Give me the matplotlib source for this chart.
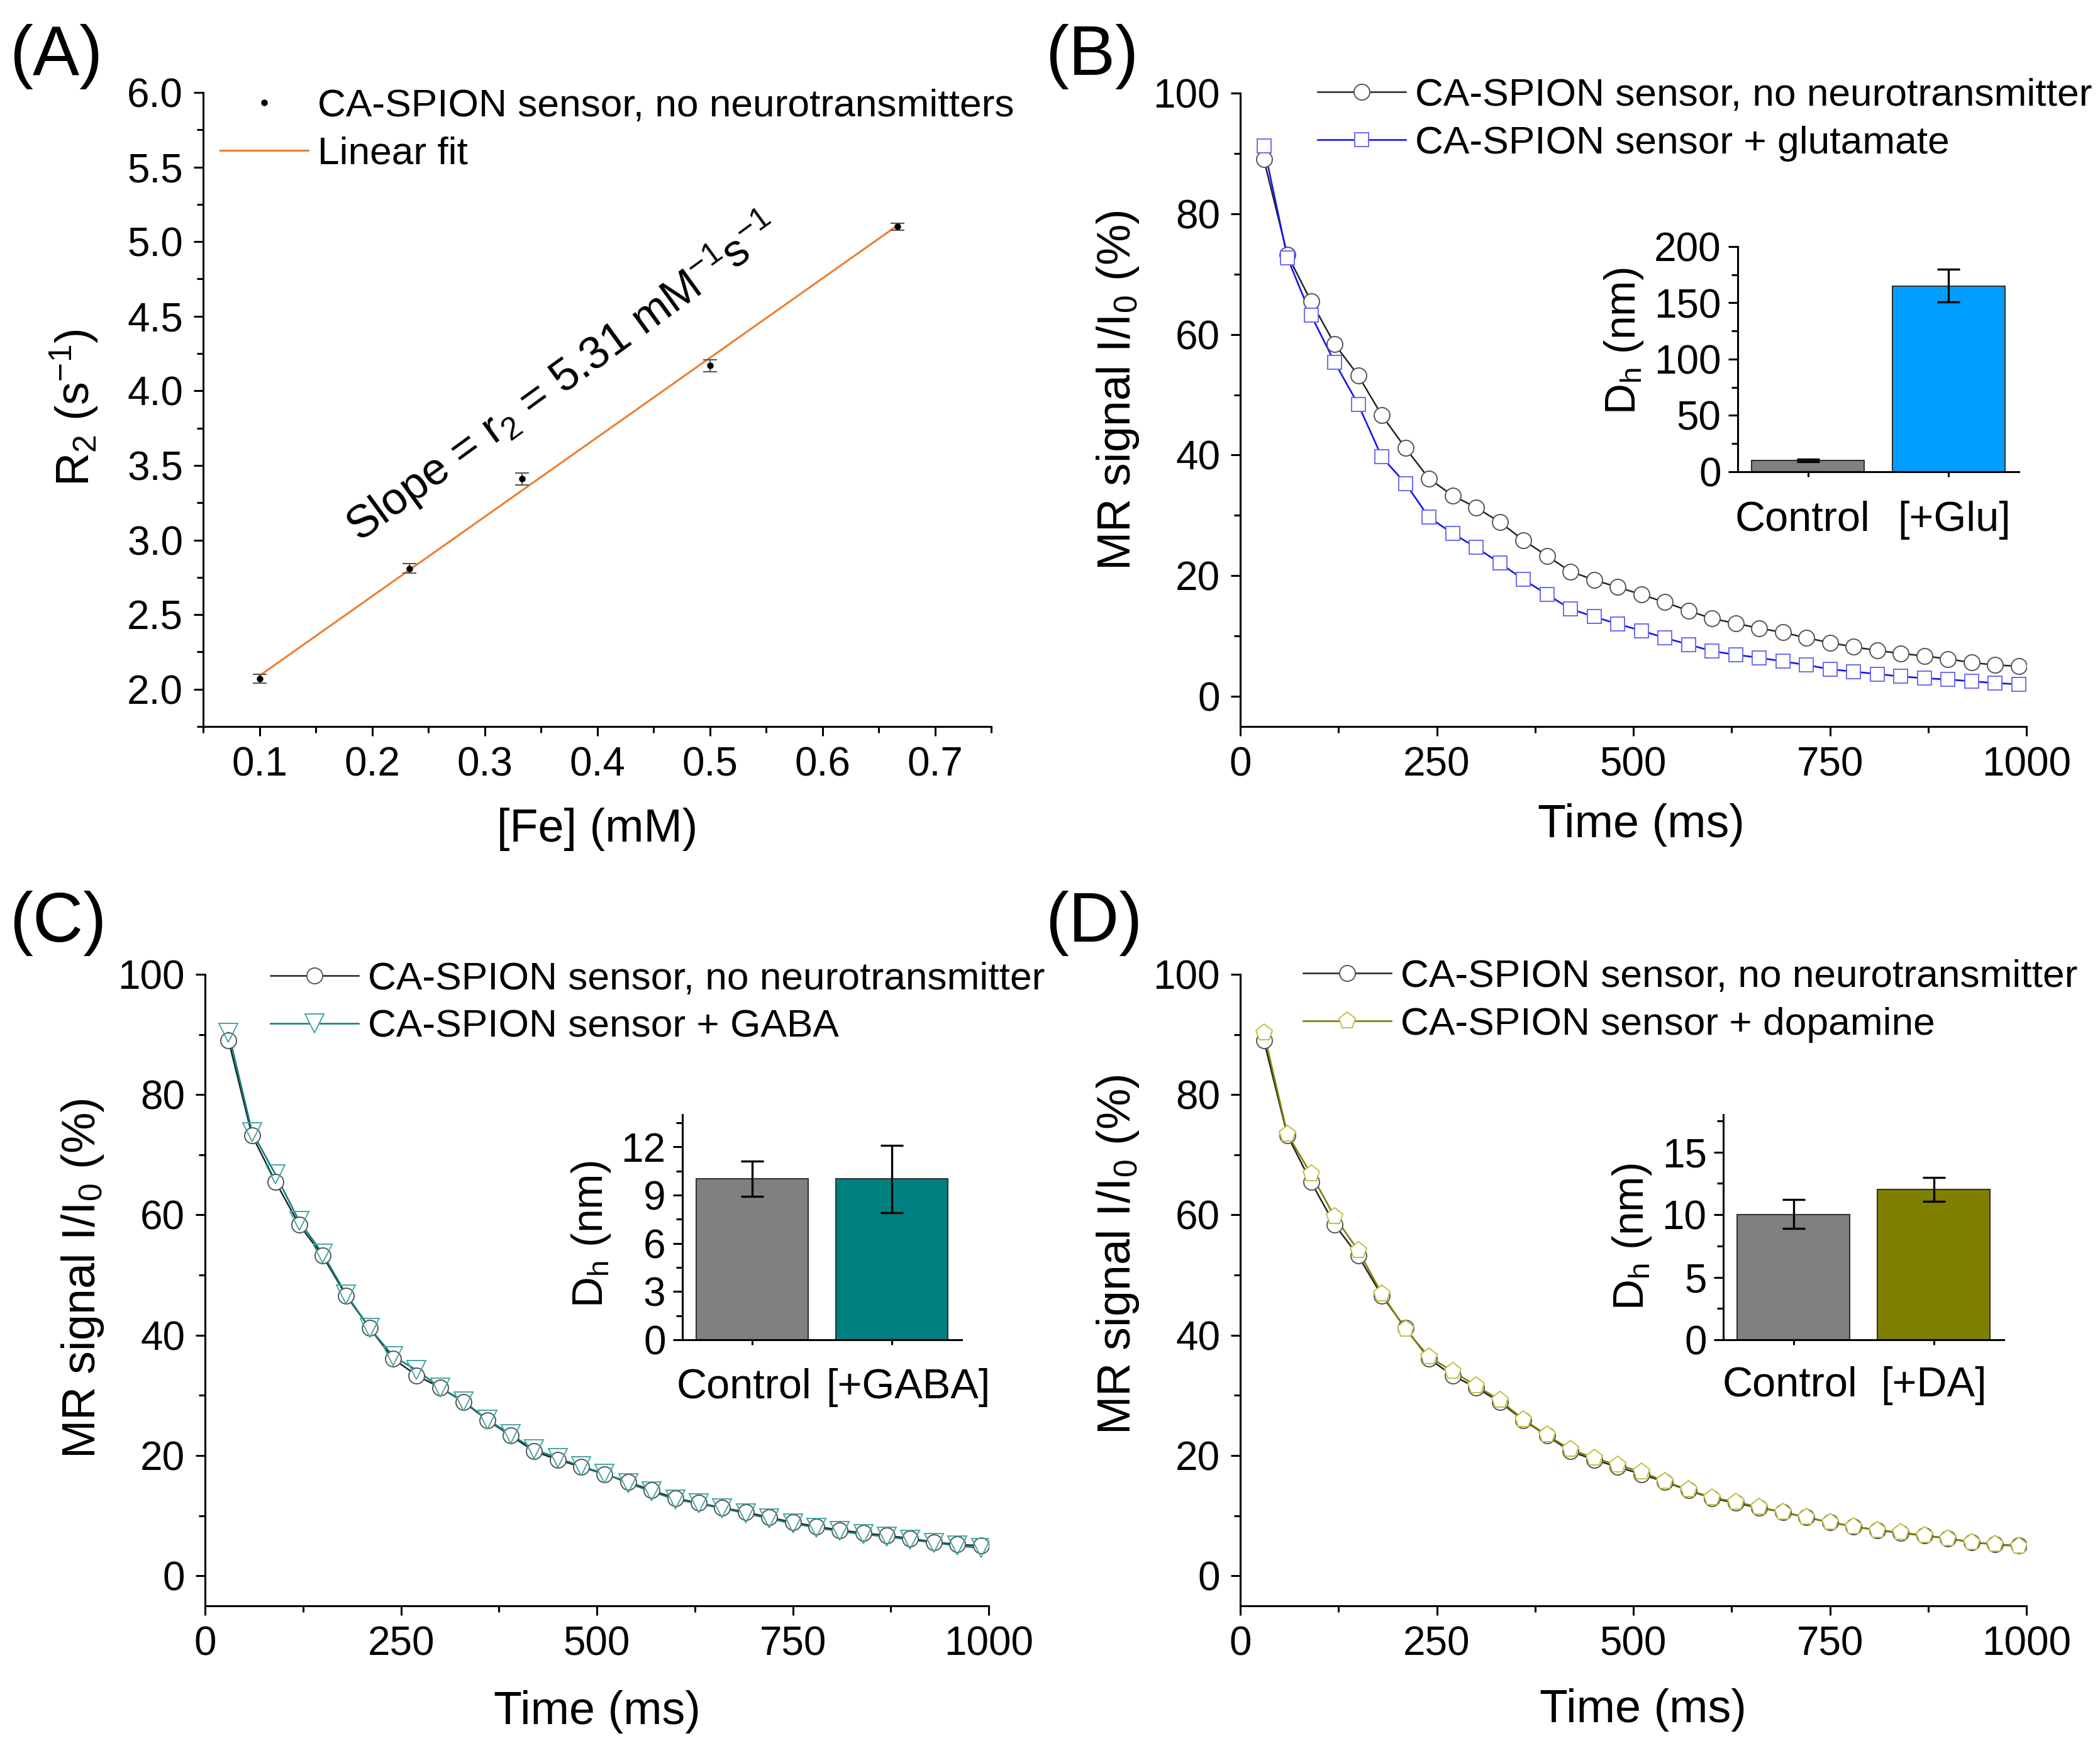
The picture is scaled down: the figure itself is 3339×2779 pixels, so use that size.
import numpy as np
import matplotlib
matplotlib.use('Agg')
import matplotlib.pyplot as plt
from matplotlib.ticker import MultipleLocator
from matplotlib.transforms import ScaledTranslation

plt.rcParams['font.family'] = ['Liberation Sans', 'DejaVu Sans']
plt.rcParams['mathtext.fontset'] = 'custom'
plt.rcParams['mathtext.rm'] = 'Liberation Sans'
plt.rcParams['mathtext.it'] = 'Liberation Sans:italic'
plt.rcParams['mathtext.default'] = 'regular'

W, H = 3339, 2779

# panel A
fe_conc = [0.1, 0.233, 0.333, 0.5, 0.667]
r2_vals = [2.07, 2.81, 3.41, 4.17, 5.10]
r2_errs = [0.03, 0.03, 0.04, 0.04, 0.025]
fit_x = [0.1, 0.667]
fit_y = [2.09, 5.11]

# decay curves
times = list(range(30, 1000, 30))
control = [89.0, 73.2, 65.5, 58.4, 53.2, 46.6, 41.2, 36.1, 33.3, 31.3, 28.9,
           25.9, 23.3, 20.7, 19.3, 18.1, 16.9, 15.6, 14.2, 12.9, 12.1, 11.3,
           10.6, 9.7, 8.9, 8.2, 7.6, 7.1, 6.7, 6.2, 5.6, 5.2, 5.0]
glutamate = [91.2, 72.7, 63.2, 55.4, 48.4, 39.7, 35.3, 29.7, 27.0, 24.7, 22.1,
             19.4, 16.9, 14.5, 13.2, 12.0, 10.9, 9.7, 8.6, 7.5, 6.9, 6.4,
             5.8, 5.2, 4.5, 4.1, 3.7, 3.3, 3.0, 2.8, 2.5, 2.2, 2.0]
gaba = [90.3, 73.8, 66.7, 59.0, 53.6, 46.8, 41.2, 36.5, 34.2, 31.3, 29.0,
        26.0, 23.5, 21.0, 19.6, 18.2, 17.0, 15.4, 14.0, 12.7, 12.0, 11.2,
        10.4, 9.5, 8.7, 8.0, 7.4, 6.9, 6.5, 6.0, 5.5, 5.0, 4.6]
dopamine = [90.3, 73.4, 66.8, 59.7, 54.1, 46.9, 41.0, 36.4, 34.0, 31.6, 29.2,
            26.0, 23.4, 21.0, 19.6, 18.4, 17.3, 15.7, 14.3, 13.0, 12.3, 11.4,
            10.6, 9.7, 8.9, 8.2, 7.6, 7.2, 6.7, 6.2, 5.6, 5.2, 4.9]

# insets: (lower, upper) error ends
glu_bars = [10, 165]
glu_errs = [[1, 14], [1, 15]]
gaba_bars = [10, 10]
gaba_errs = [[1.1, 2.1], [1.1, 2.1]]
da_bars = [10, 12]
da_errs = [[1.1, 0.95], [1.2, 0.95]]

TICK = 46
LABEL = 53
LEG = 44.8
CIRCLE = '#555555'


def axes_px(left, top, right, bottom):
    return fig.add_axes([left / W, 1 - bottom / H, (right - left) / W, (bottom - top) / H])


def style(ax, lw=2.2):
    ax.spines['top'].set_visible(False)
    ax.spines['right'].set_visible(False)
    ax.spines['left'].set_linewidth(lw)
    ax.spines['bottom'].set_linewidth(lw)
    ax.tick_params(which='major', length=11, width=lw, labelsize=TICK, pad=12)
    ax.tick_params(which='minor', length=7, width=lw)


def small_legend(ax, handles, names, x, y):
    ax.legend(handles, names, loc='upper left', bbox_to_anchor=(x / W, 1 - y / H),
              bbox_transform=fig.transFigure, frameon=False, fontsize=LEG,
              handlelength=2.25, handletextpad=0.24, labelspacing=0.3,
              borderpad=0, borderaxespad=0)


def decay_panel(box, series, color, edge, marker, ms, fill, label, bars, errs, bar_color,
                inset_box, bar_names, ymax, ymajor, yminor, leg_xy, main_y, xlab_x, xlab_pad,
                ins_y, name_offsets):
    ax = axes_px(*box)
    ax.plot(times, control, '-', color='#222222', lw=1.8)
    ax.plot(times, series, '-', color=color, lw=1.9)
    ax.plot(times, control, 'o', ms=18, mfc='white', mec=CIRCLE, mew=1.4)
    ax.plot(times, series, marker, ms=ms, mfc=fill, mec=edge, mew=1.4)
    ax.set_xlim(0, 1000)
    ax.set_ylim(-5, 100)
    ax.xaxis.set_major_locator(MultipleLocator(250))
    ax.xaxis.set_minor_locator(MultipleLocator(125))
    ax.yaxis.set_major_locator(MultipleLocator(20))
    ax.yaxis.set_minor_locator(MultipleLocator(10))
    style(ax)
    ax.set_xlabel('Time (ms)', fontsize=LABEL, labelpad=xlab_pad, x=xlab_x)
    ax.set_ylabel('MR signal I/I$_0$ (%)', fontsize=LABEL, labelpad=14, y=main_y)
    h1 = ax.plot([], [], '-', color='#222222', lw=1.8, marker='o', ms=18, mfc='white', mec=CIRCLE, mew=1.4)[0]
    h2 = ax.plot([], [], '-', color=color, lw=1.9, marker=marker, ms=ms, mfc='white', mec=edge, mew=1.4)[0]
    small_legend(ax, [h1, h2], ['CA-SPION sensor, no neurotransmitter', label], *leg_xy)

    ins = axes_px(*inset_box)
    ins.bar([0, 1], bars, width=0.8, color=['#808080', bar_color], edgecolor='#333333', linewidth=1.5)
    ins.errorbar([0, 1], bars, yerr=errs, fmt='none', ecolor='black', elinewidth=2.4,
                 capsize=13, capthick=2.4)
    ins.set_xlim(-0.5, 1.5)
    ins.set_ylim(0, ymax)
    ins.set_xticks([0, 1])
    ins.set_xticklabels(bar_names, fontsize=48)
    ins.yaxis.set_major_locator(MultipleLocator(ymajor))
    ins.yaxis.set_minor_locator(MultipleLocator(yminor))
    style(ins)
    ins.tick_params(axis='x', which='major', length=6, pad=24, labelsize=48)
    ins.tick_params(axis='y', which='major', pad=8)
    # the bar names sit a little off their ticks in the original
    for lab, off in zip(ins.get_xticklabels(), name_offsets):
        lab.set_transform(lab.get_transform() + ScaledTranslation(off[0] / 100, off[1] / 100, fig.dpi_scale_trans))
    ins.set_ylabel('D$_h$ (nm)', fontsize=LEG + 4, labelpad=10, y=ins_y)
    ins.patch.set_alpha(0)
    return ax


fig = plt.figure(figsize=(W / 100, H / 100), dpi=100)

# (A)
ax_a = axes_px(323, 147, 1576, 1155)
ax_a.errorbar(fe_conc, r2_vals, yerr=r2_errs, fmt='o', color='black', ms=6.5, elinewidth=1.5,
              ecolor='#555555', capsize=8, capthick=1.5, zorder=3)
ax_a.plot(fit_x, fit_y, '-', color='#ED7D31', lw=2.2, zorder=2)
ax_a.set_xlim(0.05, 0.75)
ax_a.set_ylim(1.75, 6.0)
ax_a.xaxis.set_major_locator(MultipleLocator(0.1))
ax_a.xaxis.set_minor_locator(MultipleLocator(0.05))
ax_a.yaxis.set_major_locator(MultipleLocator(0.5))
ax_a.yaxis.set_minor_locator(MultipleLocator(0.25))
style(ax_a)
ax_a.set_xlabel('[Fe] (mM)', fontsize=LABEL, labelpad=27)
ax_a.set_ylabel('R$_2$ (s$^{-1}$)', fontsize=LABEL, labelpad=31, y=0.503)
h_pts = ax_a.plot([], [], 'o', color='black', ms=6.5)[0]
h_fit = ax_a.plot([], [], '-', color='#ED7D31', lw=2.2)[0]
small_legend(ax_a, [h_pts, h_fit], ['CA-SPION sensor, no neurotransmitters', 'Linear fit'], 350, 141)
fig.text(894 / W, 1 - 600 / H, 'Slope = r$_2$ = 5.31 mM$^{-1}$s$^{-1}$', fontsize=51.5,
         rotation=36, ha='center', va='center')

# (B)
decay_panel((1972, 148, 3222, 1155), glutamate, '#1414F0', '#6A6AF5', 's', 16.5, 'white',
            'CA-SPION sensor + glutamate', glu_bars, glu_errs, '#009FFF',
            (2763, 392, 3210, 750), ['Control', '[+Glu]'], 200, 50, 25, (2095, 124),
            0.531, 0.510, 22, 0.58, [(-9, -4), (9, -4)])

# (C)
decay_panel((326, 1549, 1572, 2553), gaba, '#128080', '#45A5A5', 'v', 21, 'none',
            'CA-SPION sensor + GABA', gaba_bars, gaba_errs, '#008080',
            (1085, 1772, 1529, 2130), ['Control', '[+GABA]'], 14, 3, 1.5, (430, 1529),
            0.518, 0.5, 30, 0.47, [(-13, -3), (26, -3)])

# (D)
decay_panel((1972, 1549, 3222, 2553), dopamine, '#808000', '#C0C040', 'p', 20, 'white',
            'CA-SPION sensor + dopamine', da_bars, da_errs, '#808000',
            (2740, 1772, 3186, 2130), ['Control', '[+DA]'], 18, 5, 2.5, (2072, 1525),
            0.556, 0.512, 28, 0.458, [(-6, 0), (0, 0)])

for name, x, y in [('(A)', 15, 90), ('(B)', 1662, 90), ('(C)', 15, 1468), ('(D)', 1662, 1468)]:
    fig.text(x / W, 1 - y / H, name, fontsize=80, ha='left', va='center')

fig.savefig('out.png', dpi=100)
